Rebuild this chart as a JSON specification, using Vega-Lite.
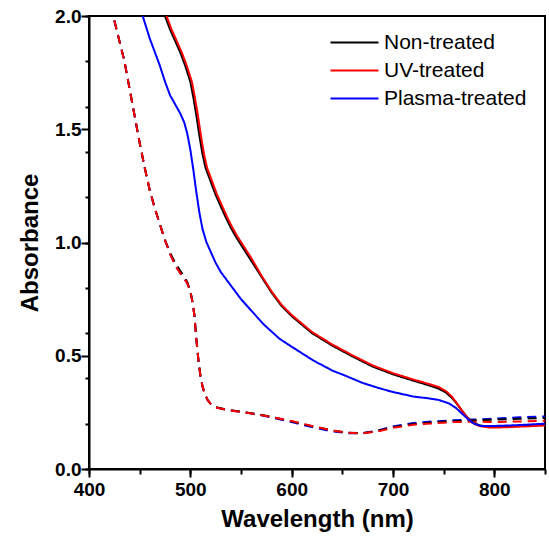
{
  "$schema": "https://vega.github.io/schema/vega-lite/v6.json",
  "width": 456,
  "height": 453,
  "autosize": {"type": "none"},
  "padding": {"left": 89, "top": 16, "right": 4, "bottom": 67},
  "background": "white",
  "config": {
    "view": {"stroke": "black", "strokeWidth": 2},
    "font": "Liberation Sans",
    "axis": {"grid": false, "domainColor": "black", "domainWidth": 2,
             "labelFont": "Liberation Sans", "labelFontWeight": "bold", "labelFontSize": 19, "labelColor": "black",
             "titleFont": "Liberation Sans", "titleFontWeight": "bold", "titleFontSize": 24, "titleColor": "black"},
    "legend": {"orient": "none", "legendX": 255, "legendY": 16, "padding": 0, "symbolType": "M-4.8,0H4.8", "symbolSize": 100,
               "symbolStrokeWidth": 2, "labelFont": "Liberation Sans", "labelFontSize": 21, "labelColor": "black",
               "labelOffset": 19, "rowPadding": 6}
  },
  "data": {"values": [
    {"sample":"Plasma-treated","scan":"dashed","wavelength":425,"absorbance":1.98},
    {"sample":"Plasma-treated","scan":"dashed","wavelength":430,"absorbance":1.89},
    {"sample":"Plasma-treated","scan":"dashed","wavelength":435,"absorbance":1.80},
    {"sample":"Plasma-treated","scan":"dashed","wavelength":440,"absorbance":1.68},
    {"sample":"Plasma-treated","scan":"dashed","wavelength":445,"absorbance":1.56},
    {"sample":"Plasma-treated","scan":"dashed","wavelength":450,"absorbance":1.44},
    {"sample":"Plasma-treated","scan":"dashed","wavelength":455,"absorbance":1.33},
    {"sample":"Plasma-treated","scan":"dashed","wavelength":460,"absorbance":1.23},
    {"sample":"Plasma-treated","scan":"dashed","wavelength":465,"absorbance":1.15},
    {"sample":"Plasma-treated","scan":"dashed","wavelength":470,"absorbance":1.08},
    {"sample":"Plasma-treated","scan":"dashed","wavelength":475,"absorbance":1.01},
    {"sample":"Plasma-treated","scan":"dashed","wavelength":480,"absorbance":0.95},
    {"sample":"Plasma-treated","scan":"dashed","wavelength":485,"absorbance":0.90},
    {"sample":"Plasma-treated","scan":"dashed","wavelength":490,"absorbance":0.865},
    {"sample":"Plasma-treated","scan":"dashed","wavelength":494,"absorbance":0.84},
    {"sample":"Plasma-treated","scan":"dashed","wavelength":497,"absorbance":0.82},
    {"sample":"Plasma-treated","scan":"dashed","wavelength":500,"absorbance":0.785},
    {"sample":"Plasma-treated","scan":"dashed","wavelength":502,"absorbance":0.74},
    {"sample":"Plasma-treated","scan":"dashed","wavelength":504,"absorbance":0.68},
    {"sample":"Plasma-treated","scan":"dashed","wavelength":506,"absorbance":0.57},
    {"sample":"Plasma-treated","scan":"dashed","wavelength":508,"absorbance":0.48},
    {"sample":"Plasma-treated","scan":"dashed","wavelength":510,"absorbance":0.41},
    {"sample":"Plasma-treated","scan":"dashed","wavelength":512,"absorbance":0.365},
    {"sample":"Plasma-treated","scan":"dashed","wavelength":514,"absorbance":0.335},
    {"sample":"Plasma-treated","scan":"dashed","wavelength":517,"absorbance":0.305},
    {"sample":"Plasma-treated","scan":"dashed","wavelength":520,"absorbance":0.288},
    {"sample":"Plasma-treated","scan":"dashed","wavelength":525,"absorbance":0.272},
    {"sample":"Plasma-treated","scan":"dashed","wavelength":535,"absorbance":0.262},
    {"sample":"Plasma-treated","scan":"dashed","wavelength":550,"absorbance":0.252},
    {"sample":"Plasma-treated","scan":"dashed","wavelength":565,"absorbance":0.242},
    {"sample":"Plasma-treated","scan":"dashed","wavelength":580,"absorbance":0.228},
    {"sample":"Plasma-treated","scan":"dashed","wavelength":600,"absorbance":0.207},
    {"sample":"Plasma-treated","scan":"dashed","wavelength":620,"absorbance":0.185},
    {"sample":"Plasma-treated","scan":"dashed","wavelength":640,"absorbance":0.166},
    {"sample":"Plasma-treated","scan":"dashed","wavelength":655,"absorbance":0.158},
    {"sample":"Plasma-treated","scan":"dashed","wavelength":670,"absorbance":0.158},
    {"sample":"Plasma-treated","scan":"dashed","wavelength":685,"absorbance":0.17},
    {"sample":"Plasma-treated","scan":"dashed","wavelength":700,"absorbance":0.188},
    {"sample":"Plasma-treated","scan":"dashed","wavelength":720,"absorbance":0.203},
    {"sample":"Plasma-treated","scan":"dashed","wavelength":740,"absorbance":0.21},
    {"sample":"Plasma-treated","scan":"dashed","wavelength":760,"absorbance":0.215},
    {"sample":"Plasma-treated","scan":"dashed","wavelength":780,"absorbance":0.218},
    {"sample":"Plasma-treated","scan":"dashed","wavelength":800,"absorbance":0.222},
    {"sample":"Plasma-treated","scan":"dashed","wavelength":825,"absorbance":0.228},
    {"sample":"Plasma-treated","scan":"dashed","wavelength":850,"absorbance":0.232},

    {"sample":"Non-treated","scan":"dashed","wavelength":425,"absorbance":1.98},
    {"sample":"Non-treated","scan":"dashed","wavelength":430,"absorbance":1.89},
    {"sample":"Non-treated","scan":"dashed","wavelength":435,"absorbance":1.80},
    {"sample":"Non-treated","scan":"dashed","wavelength":440,"absorbance":1.68},
    {"sample":"Non-treated","scan":"dashed","wavelength":445,"absorbance":1.56},
    {"sample":"Non-treated","scan":"dashed","wavelength":450,"absorbance":1.44},
    {"sample":"Non-treated","scan":"dashed","wavelength":455,"absorbance":1.33},
    {"sample":"Non-treated","scan":"dashed","wavelength":460,"absorbance":1.23},
    {"sample":"Non-treated","scan":"dashed","wavelength":465,"absorbance":1.15},
    {"sample":"Non-treated","scan":"dashed","wavelength":470,"absorbance":1.08},
    {"sample":"Non-treated","scan":"dashed","wavelength":475,"absorbance":1.01},
    {"sample":"Non-treated","scan":"dashed","wavelength":480,"absorbance":0.955},
    {"sample":"Non-treated","scan":"dashed","wavelength":485,"absorbance":0.91},
    {"sample":"Non-treated","scan":"dashed","wavelength":490,"absorbance":0.875},
    {"sample":"Non-treated","scan":"dashed","wavelength":494,"absorbance":0.85},
    {"sample":"Non-treated","scan":"dashed","wavelength":497,"absorbance":0.825},
    {"sample":"Non-treated","scan":"dashed","wavelength":500,"absorbance":0.785},
    {"sample":"Non-treated","scan":"dashed","wavelength":502,"absorbance":0.74},
    {"sample":"Non-treated","scan":"dashed","wavelength":504,"absorbance":0.68},
    {"sample":"Non-treated","scan":"dashed","wavelength":506,"absorbance":0.57},
    {"sample":"Non-treated","scan":"dashed","wavelength":508,"absorbance":0.48},
    {"sample":"Non-treated","scan":"dashed","wavelength":510,"absorbance":0.41},
    {"sample":"Non-treated","scan":"dashed","wavelength":512,"absorbance":0.365},
    {"sample":"Non-treated","scan":"dashed","wavelength":514,"absorbance":0.335},
    {"sample":"Non-treated","scan":"dashed","wavelength":517,"absorbance":0.305},
    {"sample":"Non-treated","scan":"dashed","wavelength":520,"absorbance":0.288},
    {"sample":"Non-treated","scan":"dashed","wavelength":525,"absorbance":0.273},
    {"sample":"Non-treated","scan":"dashed","wavelength":535,"absorbance":0.263},
    {"sample":"Non-treated","scan":"dashed","wavelength":550,"absorbance":0.253},
    {"sample":"Non-treated","scan":"dashed","wavelength":565,"absorbance":0.243},
    {"sample":"Non-treated","scan":"dashed","wavelength":580,"absorbance":0.23},
    {"sample":"Non-treated","scan":"dashed","wavelength":600,"absorbance":0.21},
    {"sample":"Non-treated","scan":"dashed","wavelength":620,"absorbance":0.189},
    {"sample":"Non-treated","scan":"dashed","wavelength":640,"absorbance":0.17},
    {"sample":"Non-treated","scan":"dashed","wavelength":655,"absorbance":0.16},
    {"sample":"Non-treated","scan":"dashed","wavelength":670,"absorbance":0.158},
    {"sample":"Non-treated","scan":"dashed","wavelength":685,"absorbance":0.168},
    {"sample":"Non-treated","scan":"dashed","wavelength":700,"absorbance":0.185},
    {"sample":"Non-treated","scan":"dashed","wavelength":720,"absorbance":0.199},
    {"sample":"Non-treated","scan":"dashed","wavelength":740,"absorbance":0.206},
    {"sample":"Non-treated","scan":"dashed","wavelength":760,"absorbance":0.211},
    {"sample":"Non-treated","scan":"dashed","wavelength":780,"absorbance":0.215},
    {"sample":"Non-treated","scan":"dashed","wavelength":800,"absorbance":0.218},
    {"sample":"Non-treated","scan":"dashed","wavelength":825,"absorbance":0.222},
    {"sample":"Non-treated","scan":"dashed","wavelength":850,"absorbance":0.225},

    {"sample":"UV-treated","scan":"dashed","wavelength":425,"absorbance":1.98},
    {"sample":"UV-treated","scan":"dashed","wavelength":430,"absorbance":1.89},
    {"sample":"UV-treated","scan":"dashed","wavelength":435,"absorbance":1.80},
    {"sample":"UV-treated","scan":"dashed","wavelength":440,"absorbance":1.68},
    {"sample":"UV-treated","scan":"dashed","wavelength":445,"absorbance":1.56},
    {"sample":"UV-treated","scan":"dashed","wavelength":450,"absorbance":1.44},
    {"sample":"UV-treated","scan":"dashed","wavelength":455,"absorbance":1.33},
    {"sample":"UV-treated","scan":"dashed","wavelength":460,"absorbance":1.23},
    {"sample":"UV-treated","scan":"dashed","wavelength":465,"absorbance":1.15},
    {"sample":"UV-treated","scan":"dashed","wavelength":470,"absorbance":1.08},
    {"sample":"UV-treated","scan":"dashed","wavelength":475,"absorbance":1.01},
    {"sample":"UV-treated","scan":"dashed","wavelength":480,"absorbance":0.95},
    {"sample":"UV-treated","scan":"dashed","wavelength":485,"absorbance":0.90},
    {"sample":"UV-treated","scan":"dashed","wavelength":490,"absorbance":0.865},
    {"sample":"UV-treated","scan":"dashed","wavelength":494,"absorbance":0.84},
    {"sample":"UV-treated","scan":"dashed","wavelength":497,"absorbance":0.82},
    {"sample":"UV-treated","scan":"dashed","wavelength":500,"absorbance":0.785},
    {"sample":"UV-treated","scan":"dashed","wavelength":502,"absorbance":0.74},
    {"sample":"UV-treated","scan":"dashed","wavelength":504,"absorbance":0.68},
    {"sample":"UV-treated","scan":"dashed","wavelength":506,"absorbance":0.57},
    {"sample":"UV-treated","scan":"dashed","wavelength":508,"absorbance":0.48},
    {"sample":"UV-treated","scan":"dashed","wavelength":510,"absorbance":0.41},
    {"sample":"UV-treated","scan":"dashed","wavelength":512,"absorbance":0.365},
    {"sample":"UV-treated","scan":"dashed","wavelength":514,"absorbance":0.335},
    {"sample":"UV-treated","scan":"dashed","wavelength":517,"absorbance":0.305},
    {"sample":"UV-treated","scan":"dashed","wavelength":520,"absorbance":0.288},
    {"sample":"UV-treated","scan":"dashed","wavelength":525,"absorbance":0.272},
    {"sample":"UV-treated","scan":"dashed","wavelength":535,"absorbance":0.262},
    {"sample":"UV-treated","scan":"dashed","wavelength":550,"absorbance":0.252},
    {"sample":"UV-treated","scan":"dashed","wavelength":565,"absorbance":0.242},
    {"sample":"UV-treated","scan":"dashed","wavelength":580,"absorbance":0.23},
    {"sample":"UV-treated","scan":"dashed","wavelength":600,"absorbance":0.212},
    {"sample":"UV-treated","scan":"dashed","wavelength":620,"absorbance":0.19},
    {"sample":"UV-treated","scan":"dashed","wavelength":640,"absorbance":0.17},
    {"sample":"UV-treated","scan":"dashed","wavelength":655,"absorbance":0.16},
    {"sample":"UV-treated","scan":"dashed","wavelength":670,"absorbance":0.157},
    {"sample":"UV-treated","scan":"dashed","wavelength":685,"absorbance":0.166},
    {"sample":"UV-treated","scan":"dashed","wavelength":700,"absorbance":0.182},
    {"sample":"UV-treated","scan":"dashed","wavelength":720,"absorbance":0.195},
    {"sample":"UV-treated","scan":"dashed","wavelength":740,"absorbance":0.202},
    {"sample":"UV-treated","scan":"dashed","wavelength":760,"absorbance":0.207},
    {"sample":"UV-treated","scan":"dashed","wavelength":780,"absorbance":0.209},
    {"sample":"UV-treated","scan":"dashed","wavelength":800,"absorbance":0.207},
    {"sample":"UV-treated","scan":"dashed","wavelength":825,"absorbance":0.21},
    {"sample":"UV-treated","scan":"dashed","wavelength":850,"absorbance":0.213},

    {"sample":"Non-treated","scan":"solid","wavelength":475,"absorbance":2.0},
    {"sample":"Non-treated","scan":"solid","wavelength":480,"absorbance":1.94},
    {"sample":"Non-treated","scan":"solid","wavelength":485,"absorbance":1.89},
    {"sample":"Non-treated","scan":"solid","wavelength":490,"absorbance":1.84},
    {"sample":"Non-treated","scan":"solid","wavelength":495,"absorbance":1.78},
    {"sample":"Non-treated","scan":"solid","wavelength":500,"absorbance":1.71},
    {"sample":"Non-treated","scan":"solid","wavelength":503,"absorbance":1.64},
    {"sample":"Non-treated","scan":"solid","wavelength":506,"absorbance":1.56},
    {"sample":"Non-treated","scan":"solid","wavelength":509,"absorbance":1.47},
    {"sample":"Non-treated","scan":"solid","wavelength":512,"absorbance":1.39},
    {"sample":"Non-treated","scan":"solid","wavelength":515,"absorbance":1.33},
    {"sample":"Non-treated","scan":"solid","wavelength":520,"absorbance":1.27},
    {"sample":"Non-treated","scan":"solid","wavelength":525,"absorbance":1.21},
    {"sample":"Non-treated","scan":"solid","wavelength":530,"absorbance":1.16},
    {"sample":"Non-treated","scan":"solid","wavelength":535,"absorbance":1.11},
    {"sample":"Non-treated","scan":"solid","wavelength":540,"absorbance":1.065},
    {"sample":"Non-treated","scan":"solid","wavelength":545,"absorbance":1.025},
    {"sample":"Non-treated","scan":"solid","wavelength":550,"absorbance":0.99},
    {"sample":"Non-treated","scan":"solid","wavelength":555,"absorbance":0.955},
    {"sample":"Non-treated","scan":"solid","wavelength":560,"absorbance":0.92},
    {"sample":"Non-treated","scan":"solid","wavelength":570,"absorbance":0.85},
    {"sample":"Non-treated","scan":"solid","wavelength":580,"absorbance":0.78},
    {"sample":"Non-treated","scan":"solid","wavelength":590,"absorbance":0.72},
    {"sample":"Non-treated","scan":"solid","wavelength":600,"absorbance":0.675},
    {"sample":"Non-treated","scan":"solid","wavelength":620,"absorbance":0.60},
    {"sample":"Non-treated","scan":"solid","wavelength":640,"absorbance":0.545},
    {"sample":"Non-treated","scan":"solid","wavelength":660,"absorbance":0.497},
    {"sample":"Non-treated","scan":"solid","wavelength":680,"absorbance":0.452},
    {"sample":"Non-treated","scan":"solid","wavelength":700,"absorbance":0.418},
    {"sample":"Non-treated","scan":"solid","wavelength":720,"absorbance":0.39},
    {"sample":"Non-treated","scan":"solid","wavelength":735,"absorbance":0.37},
    {"sample":"Non-treated","scan":"solid","wavelength":745,"absorbance":0.355},
    {"sample":"Non-treated","scan":"solid","wavelength":752,"absorbance":0.338},
    {"sample":"Non-treated","scan":"solid","wavelength":758,"absorbance":0.315},
    {"sample":"Non-treated","scan":"solid","wavelength":763,"absorbance":0.288},
    {"sample":"Non-treated","scan":"solid","wavelength":768,"absorbance":0.258},
    {"sample":"Non-treated","scan":"solid","wavelength":773,"absorbance":0.23},
    {"sample":"Non-treated","scan":"solid","wavelength":778,"absorbance":0.208},
    {"sample":"Non-treated","scan":"solid","wavelength":785,"absorbance":0.193},
    {"sample":"Non-treated","scan":"solid","wavelength":795,"absorbance":0.186},
    {"sample":"Non-treated","scan":"solid","wavelength":810,"absorbance":0.187},
    {"sample":"Non-treated","scan":"solid","wavelength":830,"absorbance":0.191},
    {"sample":"Non-treated","scan":"solid","wavelength":850,"absorbance":0.196},

    {"sample":"UV-treated","scan":"solid","wavelength":476.5,"absorbance":2.0},
    {"sample":"UV-treated","scan":"solid","wavelength":481.5,"absorbance":1.94},
    {"sample":"UV-treated","scan":"solid","wavelength":486.5,"absorbance":1.89},
    {"sample":"UV-treated","scan":"solid","wavelength":491.5,"absorbance":1.84},
    {"sample":"UV-treated","scan":"solid","wavelength":496.5,"absorbance":1.78},
    {"sample":"UV-treated","scan":"solid","wavelength":501.5,"absorbance":1.71},
    {"sample":"UV-treated","scan":"solid","wavelength":504.5,"absorbance":1.64},
    {"sample":"UV-treated","scan":"solid","wavelength":507.5,"absorbance":1.56},
    {"sample":"UV-treated","scan":"solid","wavelength":510.5,"absorbance":1.47},
    {"sample":"UV-treated","scan":"solid","wavelength":513.5,"absorbance":1.39},
    {"sample":"UV-treated","scan":"solid","wavelength":516.5,"absorbance":1.33},
    {"sample":"UV-treated","scan":"solid","wavelength":521.5,"absorbance":1.27},
    {"sample":"UV-treated","scan":"solid","wavelength":526,"absorbance":1.215},
    {"sample":"UV-treated","scan":"solid","wavelength":531,"absorbance":1.165},
    {"sample":"UV-treated","scan":"solid","wavelength":536,"absorbance":1.115},
    {"sample":"UV-treated","scan":"solid","wavelength":541,"absorbance":1.07},
    {"sample":"UV-treated","scan":"solid","wavelength":546,"absorbance":1.03},
    {"sample":"UV-treated","scan":"solid","wavelength":551,"absorbance":0.995},
    {"sample":"UV-treated","scan":"solid","wavelength":556,"absorbance":0.96},
    {"sample":"UV-treated","scan":"solid","wavelength":561,"absorbance":0.925},
    {"sample":"UV-treated","scan":"solid","wavelength":570,"absorbance":0.855},
    {"sample":"UV-treated","scan":"solid","wavelength":580,"absorbance":0.785},
    {"sample":"UV-treated","scan":"solid","wavelength":590,"absorbance":0.725},
    {"sample":"UV-treated","scan":"solid","wavelength":600,"absorbance":0.68},
    {"sample":"UV-treated","scan":"solid","wavelength":620,"absorbance":0.605},
    {"sample":"UV-treated","scan":"solid","wavelength":640,"absorbance":0.55},
    {"sample":"UV-treated","scan":"solid","wavelength":660,"absorbance":0.502},
    {"sample":"UV-treated","scan":"solid","wavelength":680,"absorbance":0.457},
    {"sample":"UV-treated","scan":"solid","wavelength":700,"absorbance":0.423},
    {"sample":"UV-treated","scan":"solid","wavelength":720,"absorbance":0.395},
    {"sample":"UV-treated","scan":"solid","wavelength":735,"absorbance":0.376},
    {"sample":"UV-treated","scan":"solid","wavelength":745,"absorbance":0.362},
    {"sample":"UV-treated","scan":"solid","wavelength":752,"absorbance":0.345},
    {"sample":"UV-treated","scan":"solid","wavelength":758,"absorbance":0.32},
    {"sample":"UV-treated","scan":"solid","wavelength":763,"absorbance":0.29},
    {"sample":"UV-treated","scan":"solid","wavelength":768,"absorbance":0.258},
    {"sample":"UV-treated","scan":"solid","wavelength":773,"absorbance":0.228},
    {"sample":"UV-treated","scan":"solid","wavelength":778,"absorbance":0.205},
    {"sample":"UV-treated","scan":"solid","wavelength":785,"absorbance":0.19},
    {"sample":"UV-treated","scan":"solid","wavelength":795,"absorbance":0.183},
    {"sample":"UV-treated","scan":"solid","wavelength":810,"absorbance":0.184},
    {"sample":"UV-treated","scan":"solid","wavelength":830,"absorbance":0.188},
    {"sample":"UV-treated","scan":"solid","wavelength":850,"absorbance":0.192},

    {"sample":"Plasma-treated","scan":"solid","wavelength":453,"absorbance":2.0},
    {"sample":"Plasma-treated","scan":"solid","wavelength":460,"absorbance":1.90},
    {"sample":"Plasma-treated","scan":"solid","wavelength":465,"absorbance":1.84},
    {"sample":"Plasma-treated","scan":"solid","wavelength":470,"absorbance":1.78},
    {"sample":"Plasma-treated","scan":"solid","wavelength":475,"absorbance":1.71},
    {"sample":"Plasma-treated","scan":"solid","wavelength":480,"absorbance":1.65},
    {"sample":"Plasma-treated","scan":"solid","wavelength":485,"absorbance":1.61},
    {"sample":"Plasma-treated","scan":"solid","wavelength":490,"absorbance":1.57},
    {"sample":"Plasma-treated","scan":"solid","wavelength":494,"absorbance":1.53},
    {"sample":"Plasma-treated","scan":"solid","wavelength":497,"absorbance":1.48},
    {"sample":"Plasma-treated","scan":"solid","wavelength":500,"absorbance":1.41},
    {"sample":"Plasma-treated","scan":"solid","wavelength":503,"absorbance":1.32},
    {"sample":"Plasma-treated","scan":"solid","wavelength":506,"absorbance":1.22},
    {"sample":"Plasma-treated","scan":"solid","wavelength":509,"absorbance":1.13},
    {"sample":"Plasma-treated","scan":"solid","wavelength":512,"absorbance":1.06},
    {"sample":"Plasma-treated","scan":"solid","wavelength":516,"absorbance":1.0},
    {"sample":"Plasma-treated","scan":"solid","wavelength":520,"absorbance":0.96},
    {"sample":"Plasma-treated","scan":"solid","wavelength":525,"absorbance":0.91},
    {"sample":"Plasma-treated","scan":"solid","wavelength":530,"absorbance":0.87},
    {"sample":"Plasma-treated","scan":"solid","wavelength":540,"absorbance":0.81},
    {"sample":"Plasma-treated","scan":"solid","wavelength":550,"absorbance":0.75},
    {"sample":"Plasma-treated","scan":"solid","wavelength":560,"absorbance":0.70},
    {"sample":"Plasma-treated","scan":"solid","wavelength":572,"absorbance":0.64},
    {"sample":"Plasma-treated","scan":"solid","wavelength":588,"absorbance":0.575},
    {"sample":"Plasma-treated","scan":"solid","wavelength":600,"absorbance":0.54},
    {"sample":"Plasma-treated","scan":"solid","wavelength":621,"absorbance":0.48},
    {"sample":"Plasma-treated","scan":"solid","wavelength":640,"absorbance":0.435},
    {"sample":"Plasma-treated","scan":"solid","wavelength":654,"absorbance":0.41},
    {"sample":"Plasma-treated","scan":"solid","wavelength":670,"absorbance":0.38},
    {"sample":"Plasma-treated","scan":"solid","wavelength":687,"absorbance":0.356},
    {"sample":"Plasma-treated","scan":"solid","wavelength":700,"absorbance":0.34},
    {"sample":"Plasma-treated","scan":"solid","wavelength":720,"absorbance":0.32},
    {"sample":"Plasma-treated","scan":"solid","wavelength":735,"absorbance":0.312},
    {"sample":"Plasma-treated","scan":"solid","wavelength":745,"absorbance":0.305},
    {"sample":"Plasma-treated","scan":"solid","wavelength":755,"absorbance":0.29},
    {"sample":"Plasma-treated","scan":"solid","wavelength":762,"absorbance":0.27},
    {"sample":"Plasma-treated","scan":"solid","wavelength":768,"absorbance":0.245},
    {"sample":"Plasma-treated","scan":"solid","wavelength":774,"absorbance":0.22},
    {"sample":"Plasma-treated","scan":"solid","wavelength":780,"absorbance":0.2},
    {"sample":"Plasma-treated","scan":"solid","wavelength":787,"absorbance":0.19},
    {"sample":"Plasma-treated","scan":"solid","wavelength":800,"absorbance":0.19},
    {"sample":"Plasma-treated","scan":"solid","wavelength":820,"absorbance":0.193},
    {"sample":"Plasma-treated","scan":"solid","wavelength":850,"absorbance":0.2}
  ]},
  "layer": [
    {
      "mark": {"type": "line", "strokeWidth": 2},
      "encoding": {
        "x": {"field": "wavelength", "type": "quantitative",
              "scale": {"domain": [400, 850], "nice": false, "zero": false},
              "axis": {"orient": "bottom", "title": "Wavelength (nm)", "tickCount": 5,
                       "tickColor": "#000000", "tickWidth": 2, "tickSize": 8, "labelPadding": 3, "titlePadding": 8, "labelFlush": false}},
        "y": {"field": "absorbance", "type": "quantitative",
              "scale": {"domain": [0, 2], "nice": false},
              "axis": {"orient": "left", "title": "Absorbance", "tickCount": 4, "format": ".1f",
                       "tickColor": "#000000", "tickWidth": 2, "tickSize": 8, "labelPadding": 0, "titlePadding": 12, "labelFlush": false}},
        "color": {"field": "sample", "type": "nominal",
                  "scale": {"domain": ["Non-treated", "UV-treated", "Plasma-treated"], "range": ["#000000", "#ff0000", "#0000ff"]},
                  "legend": {"title": null}},
        "strokeDash": {"field": "scan", "type": "nominal",
                       "scale": {"domain": ["solid", "dashed"], "range": [[1, 0], [9, 6]]},
                       "legend": null}
      }
    },
    {
      "mark": {"type": "line", "opacity": 0},
      "encoding": {
        "x": {"field": "wavelength", "type": "quantitative",
              "axis": {"orient": "bottom", "title": null, "tickCount": 9, "labels": false, "domain": false,
                       "tickColor": "#000000", "tickWidth": 2, "tickSize": 5}},
        "y": {"field": "absorbance", "type": "quantitative",
              "axis": {"orient": "left", "title": null, "tickCount": 8, "labels": false, "domain": false,
                       "tickColor": "#000000", "tickWidth": 2, "tickSize": 4}},
        "detail": {"field": "sample", "type": "nominal"}
      }
    }
  ],
  "resolve": {"axis": {"x": "independent", "y": "independent"}}
}
